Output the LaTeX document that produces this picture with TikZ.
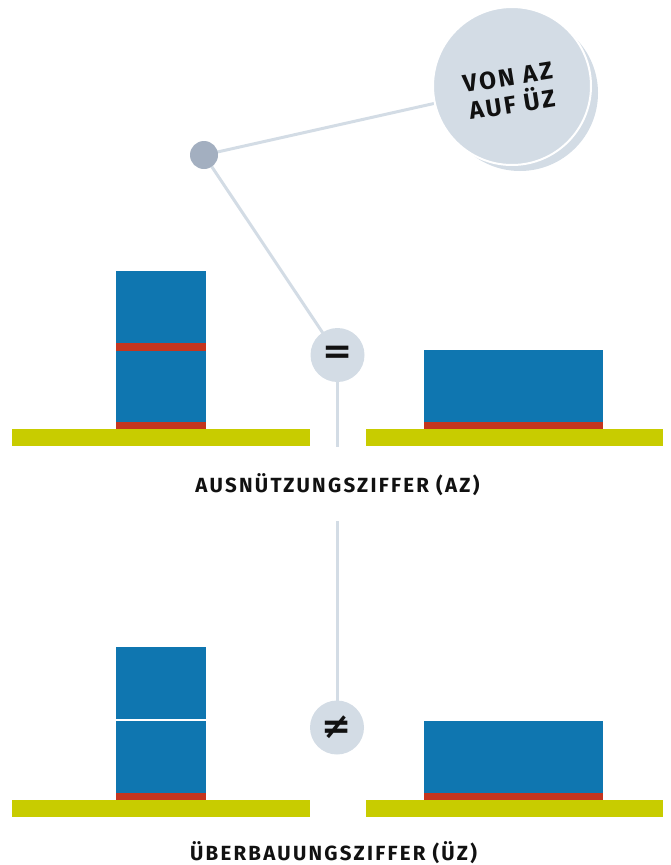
\documentclass[tikz,border=0pt]{standalone}
\usepackage{fontspec}
\usetikzlibrary{backgrounds}
\setmainfont{Fira Sans}
\newfontfamily\symfont{DejaVu Sans}
\newfontfamily\lblfont[LetterSpace=11]{Fira Sans}
\newfontfamily\circfont[LetterSpace=10]{Fira Sans}
\definecolor{bblue}{HTML}{0F76B0}
\definecolor{bred}{HTML}{C4351F}
\definecolor{bground}{HTML}{C8CC00}
\definecolor{lgrey}{HTML}{D3DCE5}
\definecolor{dgrey}{HTML}{A3AFC0}
\definecolor{txt}{HTML}{111111}
\tikzset{
  conn/.style={draw=lgrey, line width=3pt},
  sign/.style={circle, fill=lgrey, minimum size=54pt, inner sep=0pt, text=txt, font=\symfont\bfseries\fontsize{36}{36}\selectfont},
  lbl/.style={text=txt, font=\lblfont\bfseries\fontsize{20.5}{24}\selectfont},
}
\begin{document}
\begin{tikzpicture}[x=1pt,y=-1pt]
\useasboundingbox (0,0) rectangle (670,865);
% top scene
\fill[bground] (12,429) rectangle (310,446);
\fill[bground] (366,429) rectangle (663,446);
\fill[bblue] (116,271) rectangle (206,429);
\fill[bred] (116,343) rectangle (206,351);
\fill[bred] (116,422) rectangle (206,429);
\fill[bblue] (424,350) rectangle (603,429);
\fill[bred] (424,422) rectangle (603,429);
% bottom scene
\fill[bground] (12,800) rectangle (310,817);
\fill[bground] (366,800) rectangle (663,817);
\fill[bblue] (116,647) rectangle (206,800);
\fill[white] (116,719) rectangle (206,721);
\fill[bred] (116,793) rectangle (206,800);
\fill[bblue] (424,721) rectangle (603,800);
\fill[bred] (424,793) rectangle (603,800);
% nodes
\coordinate (eqbot) at (337.5,447);
\coordinate (midtop) at (337,521);
\node[circle, fill=lgrey, minimum size=156pt, inner sep=0pt] (shadow) at (520,93) {};
\node[circle, fill=lgrey, draw=white, line width=2pt, minimum size=158pt, inner sep=0pt] (big) at (512,86) {};
\node[circle, fill=dgrey, minimum size=28pt, inner sep=0pt] (dot) at (204,155) {};
\node[sign] (eq) at (337.5,355) {=};
\node[sign] (neq) at (337,727.5) {≠};
\node[rotate=9, text=txt, align=center, font=\circfont\bfseries\fontsize{24.5}{28}\selectfont] (bigtxt) at (510,91) {VON AZ\\AUF ÜZ};
\node[lbl] (az) at (337.5,485) {AUSNÜTZUNGSZIFFER (AZ)};
\node[lbl] (uz) at (333.5,853) {ÜBERBAUUNGSZIFFER (ÜZ)};
% connectors behind the nodes
\begin{scope}[on background layer]
\draw[conn] (dot.center) -- (big.center);
\draw[conn] (dot.center) -- (eq.center);
\draw[conn] (eq.center) -- (eqbot);
\draw[conn] (midtop) -- (neq.center);
\end{scope}
\end{tikzpicture}
\end{document}
